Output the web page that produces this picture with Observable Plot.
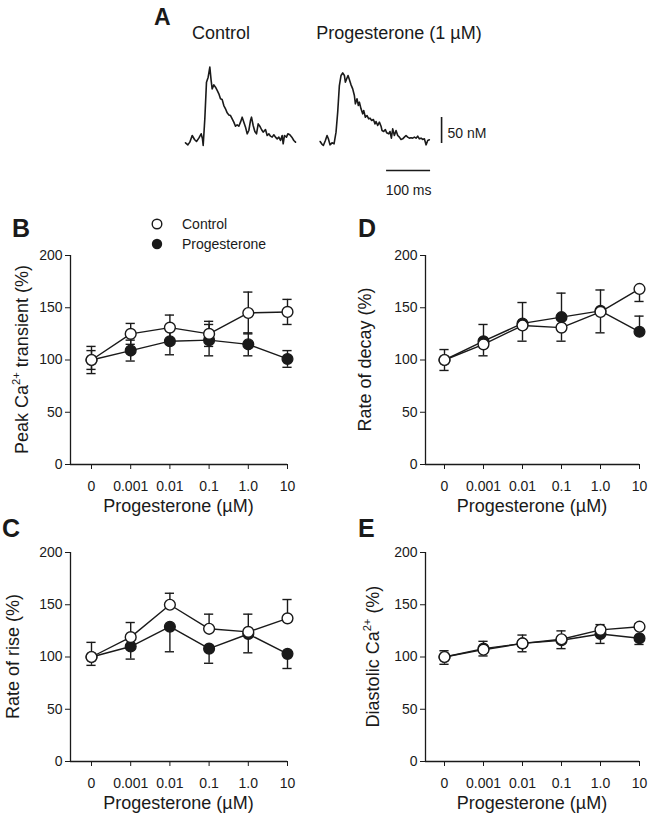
<!DOCTYPE html>
<html><head><meta charset="utf-8">
<script src="https://cdn.jsdelivr.net/npm/d3@7"></script>
<script src="https://cdn.jsdelivr.net/npm/@observablehq/plot@0.6"></script>
<style>
body{margin:0;background:#fff;}
#fig{position:relative;width:648px;height:817px;overflow:hidden;font-family:"Liberation Sans",Arial,sans-serif;color:#1a1a1a;}
#fig > svg{position:absolute;}
</style></head><body><div id="fig"></div>
<script>
// ---------- data ----------
const doses = ["0", "0.001", "0.01", "0.1", "1.0", "10"];

// B: Peak Ca2+ transient (%)
const peakControl    = [100, 125, 131, 125, 145, 146];
const peakControlSem = [13, 10, 12, 12, 20, 12];
const peakProg       = [100, 109, 118, 119, 115, 101];
const peakProgSem    = [9, 10, 13, 15, 11, 8];
// C: Rate of rise (%)
const riseControl    = [100, 119, 150, 127, 124, 137];
const riseControlSem = [14, 14, 11, 14, 17, 18];
const riseProg       = [100, 110, 129, 108, 122, 103];
const riseProgSem    = [8, 12, 24, 14, 18, 14];
// D: Rate of decay (%)
const decayControl    = [100, 115, 133, 131, 146, 168];
const decayControlSem = [10, 11, 15, 13, 20, 12];
const decayProg       = [100, 118, 135, 141, 147, 127];
const decayProgSem    = [10, 16, 20, 23, 20, 15];
// E: Diastolic Ca2+ (%)
const diaControl    = [100, 107, 113, 117, 126, 129];
const diaControlSem = [6, 8, 8, 8, 5, 3];
const diaProg       = [100, 108, 113, 116, 122, 118];
const diaProgSem    = [7, 7, 8, 8, 9, 6];

const yTicks = [0, 50, 100, 150, 200];

// A: example Ca2+ transients (time ms, [Ca2+] nM above baseline)
const ctrlT  = [0,5.3,9.8,15.2,20.5,25,30.3,35.6,38.6,40.2,43.9,47.7,51.5,55.3,58.3,60.6,64.4,68.2,72,75.8,79.5,83.3,87.1,90.9,94.7,98.5,102.3,106.1,109.8,113.6,117.4,121.2,125,128.8,132.6,136.4,140.2,143.9,147.7,150,153.8,157.6,161.4,165.2,168.9,172.7,176.5,181.8,185.6,189.4,193.2,197,200.8,204.5,208.3,212.1,215.9,219.7,222,225,229.5,232.6,237.1,241.7,246.2,250];
const ctrlNM = [1.3,-2.6,2.6,15.4,7.7,3.8,10.3,18.6,9,-3.8,47.4,118,127.6,146.8,121,105,112.8,108.3,102,95.5,85.9,84.6,73,66.7,59,55,53.8,47.4,41,33.3,35.9,33.3,41,50.6,41,31.4,18.6,25,44.2,50.6,34.6,23,18.6,37.8,33.3,26.9,21.8,26.9,15.4,18.6,14.1,12.2,16.7,12.2,9,12.2,5.8,15.4,-0.6,15.4,12.2,18.6,16.7,12.2,5.8,2.6];
const progT  = [1,4.5,8.3,12.9,16.7,19.7,23.5,28,32.6,37.1,40.9,44.7,48.5,52.3,56.1,58.3,61.4,64.4,67.4,71.2,75,78.8,81.1,84.8,87.9,90.2,93.9,97.7,100,103.8,107.6,111.4,114.4,118.2,122,125.8,128,131.8,135.6,139.4,141.7,145.5,149.2,152.3,156.8,159.8,162.9,165.9,169.7,173.5,177.3,181.1,184.8,188.6,192.4,196.2,200,203.8,207.6,211.4,215.2,218.9,222.7,226.5,230.3,234.1,237.9,241.7,245.5,249.2];
const progNM = [3.8,-0.6,-3.8,5.8,15.4,9,-2.6,1.3,-0.6,21.8,60.3,111.5,130.8,135.9,130.8,117.9,124.4,130.8,123.1,112.8,105.1,92.3,76.3,85.9,73.1,79.5,66.7,57.1,63.5,50.6,53.8,47.4,48.7,44.2,46.2,37.8,42.3,34.6,41,33.3,25,23.1,26.9,20.5,18.6,23.1,10.3,28.2,15.4,25,15.4,12.2,7.7,9,12.2,15.4,12.2,10.3,10.9,10.3,12.2,10.3,14.1,9,10.3,7.7,9,-2.6,5.8,7];
const scaleBarNM = 50;   // vertical scale bar
const scaleBarMs = 100;  // horizontal scale bar

// ---------- layout ----------
const INK = "#1a1a1a";
const FONT = "'Liberation Sans', Arial, sans-serif";
const fig = document.getElementById("fig");

function place(svg, left, top) {
  svg.style.position = "absolute";
  svg.style.left = left + "px";
  svg.style.top = top + "px";
  fig.appendChild(svg);
}

// ---------- Panel A ----------
{
  const W = 648, H = 205;
  const x0px = 185, pxPerMs = 0.44, y0px = 143, pxPerNM = 0.52;
  const progOffset = 305, barX = 582, barY = -52, barX0 = 457;
  const ctrlRows = ctrlT.map((t, i) => ({t, v: ctrlNM[i]}));
  const progRows = progT.map((t, i) => ({t: t + progOffset, v: progNM[i]}));
  const svgA = Plot.plot({
    width: W, height: H,
    marginLeft: 0, marginRight: 0, marginTop: 0, marginBottom: 0,
    x: {domain: [-x0px / pxPerMs, (W - x0px) / pxPerMs], axis: null},
    y: {domain: [(y0px - H) / pxPerNM, y0px / pxPerNM], axis: null},
    style: {background: "transparent", fontFamily: FONT, fontSize: "14px", color: INK, overflow: "visible"},
    marks: [
      Plot.line(ctrlRows, {x: "t", y: "v", stroke: INK, strokeWidth: 1.6}),
      Plot.line(progRows, {x: "t", y: "v", stroke: INK, strokeWidth: 1.6}),
      Plot.ruleX([barX], {y1: 0, y2: scaleBarNM, stroke: INK, strokeWidth: 1.6}),
      Plot.ruleY([barY], {x1: barX0, x2: barX0 + scaleBarMs, stroke: INK, strokeWidth: 1.6}),
      Plot.text([`${scaleBarNM} nM`], {x: barX, y: scaleBarNM * 0.38, dx: 6, textAnchor: "start", fill: INK, fontSize: 14}),
      Plot.text([`${scaleBarMs} ms`], {x: barX0 + scaleBarMs / 2, y: barY, dy: 20, fill: INK, fontSize: 14})
    ]
  });
  place(svgA, 0, 0);
}

// ---------- Panels B-E ----------
function panel({ctrl, ctrlSem, prog, progSem, ctrlDir, progDir, box, frame}) {
  const step = (frame.x1 - frame.first) / (doses.length - 1);
  const xmin = -(frame.first - frame.x0) / step;
  const capHalf = 4.6 / step;
  const rows = (vals, sems, dir, group) => vals.map((v, i) => ({
    i, v, group,
    lo: dir === "up" ? v : v - sems[i],
    hi: dir === "down" ? v : v + sems[i]
  }));
  const c = rows(ctrl, ctrlSem, ctrlDir, "Control");
  const p = rows(prog, progSem, progDir, "Progesterone");
  const all = [...p, ...c];
  const caps = [];
  for (const d of all) {
    if (d.lo < d.v) caps.push({y: d.lo, a: d.i - capHalf, b: d.i + capHalf});
    if (d.hi > d.v) caps.push({y: d.hi, a: d.i - capHalf, b: d.i + capHalf});
  }
  const svg = Plot.plot({
    width: box.width, height: box.height,
    marginLeft: frame.x0 - box.left,
    marginRight: box.left + box.width - frame.x1,
    marginTop: frame.top - box.top,
    marginBottom: box.top + box.height - frame.bottom,
    x: {domain: [xmin, doses.length - 1], ticks: d3.range(doses.length), tickFormat: i => doses[i],
        tickSize: 5, tickPadding: 12, label: null},
    y: {domain: [0, 200], ticks: yTicks, tickSize: 5, tickPadding: 3, label: null},
    style: {background: "transparent", fontFamily: FONT, fontSize: "14px", color: INK, overflow: "visible"},
    marks: [
      Plot.ruleY([0], {stroke: INK, strokeWidth: 1.3}),
      Plot.ruleX([xmin], {stroke: INK, strokeWidth: 1.3}),
      Plot.line(p, {x: "i", y: "v", stroke: INK, strokeWidth: 1.4}),
      Plot.line(c, {x: "i", y: "v", stroke: INK, strokeWidth: 1.4}),
      Plot.ruleX(all, {x: "i", y1: "lo", y2: "hi", stroke: INK, strokeWidth: 1.4}),
      Plot.ruleY(caps, {y: "y", x1: "a", x2: "b", stroke: INK, strokeWidth: 1.4}),
      Plot.dot(p, {x: "i", y: "v", r: 5.4, fill: INK, stroke: INK, strokeWidth: 1.3}),
      Plot.dot(c, {x: "i", y: "v", r: 5.4, fill: "white", stroke: INK, strokeWidth: 1.4})
    ]
  });
  place(svg, box.left, box.top);
}

panel({ctrl: peakControl, ctrlSem: peakControlSem, prog: peakProg, progSem: peakProgSem, ctrlDir: "both", progDir: "both",
  box: {left: 0, top: 210, width: 324, height: 310}, frame: {x0: 70, x1: 287, first: 91, top: 255, bottom: 464}});
panel({ctrl: riseControl, ctrlSem: riseControlSem, prog: riseProg, progSem: riseProgSem, ctrlDir: "up", progDir: "down",
  box: {left: 0, top: 520, width: 324, height: 297}, frame: {x0: 70, x1: 287, first: 91, top: 552, bottom: 761}});
panel({ctrl: decayControl, ctrlSem: decayControlSem, prog: decayProg, progSem: decayProgSem, ctrlDir: "down", progDir: "up",
  box: {left: 324, top: 210, width: 324, height: 310}, frame: {x0: 425, x1: 639, first: 444, top: 255, bottom: 464}});
panel({ctrl: diaControl, ctrlSem: diaControlSem, prog: diaProg, progSem: diaProgSem, ctrlDir: "up", progDir: "down",
  box: {left: 324, top: 520, width: 324, height: 297}, frame: {x0: 425, x1: 639, first: 444, top: 552, bottom: 761}});

// ---------- text overlay (panel letters, titles, legend) ----------
{
  const svg = d3.create("svg").attr("width", 648).attr("height", 817)
    .style("position", "absolute").style("left", "0px").style("top", "0px")
    .attr("font-family", FONT).attr("fill", INK);
  const t = (x, y, txt, size, opts = {}) => {
    const el = svg.append("text").attr("x", x).attr("y", y).attr("font-size", size)
      .attr("text-anchor", opts.anchor || "start");
    if (opts.bold) el.attr("font-weight", "bold");
    if (opts.rotate) el.attr("transform", `rotate(-90 ${x} ${y})`);
    if (Array.isArray(txt)) {
      for (const part of txt) {
        const ts = el.append("tspan").text(part.s);
        if (part.sup) ts.attr("font-size", size * 0.62).attr("dy", -size * 0.42);
        if (part.down) ts.attr("dy", size * 0.42);
      }
    } else el.text(txt);
    return el;
  };
  // letters
  t(154, 25, "A", 23, {bold: true});
  t(12, 237, "B", 25, {bold: true});
  t(2, 537, "C", 25, {bold: true});
  t(358, 237, "D", 25, {bold: true});
  t(358, 537, "E", 25, {bold: true});
  // panel A titles
  t(221, 39, "Control", 18, {anchor: "middle"});
  t(399, 39, "Progesterone (1 \u00b5M)", 18, {anchor: "middle"});
  // x-axis titles
  t(178.5, 512, "Progesterone (\u00b5M)", 18, {anchor: "middle"});
  t(178.5, 809, "Progesterone (\u00b5M)", 18, {anchor: "middle"});
  t(532, 512, "Progesterone (\u00b5M)", 18, {anchor: "middle"});
  t(532, 809, "Progesterone (\u00b5M)", 18, {anchor: "middle"});
  // y-axis titles
  t(28, 359.5, [{s: "Peak Ca"}, {s: "2+", sup: true}, {s: " transient (%)", down: true}], 18, {anchor: "middle", rotate: true});
  t(19, 656.5, "Rate of rise (%)", 18, {anchor: "middle", rotate: true});
  t(371, 359.5, "Rate of decay (%)", 18, {anchor: "middle", rotate: true});
  t(379, 656.5, [{s: "Diastolic Ca"}, {s: "2+", sup: true}, {s: " (%)", down: true}], 18, {anchor: "middle", rotate: true});
  // legend
  svg.append("circle").attr("cx", 157).attr("cy", 224).attr("r", 4.8).attr("fill", "white").attr("stroke", INK).attr("stroke-width", 1.4);
  svg.append("circle").attr("cx", 157).attr("cy", 244).attr("r", 5.2).attr("fill", INK);
  t(182, 229, "Control", 14);
  t(182, 249, "Progesterone", 14);
  fig.appendChild(svg.node());
}
</script>
</body></html>
